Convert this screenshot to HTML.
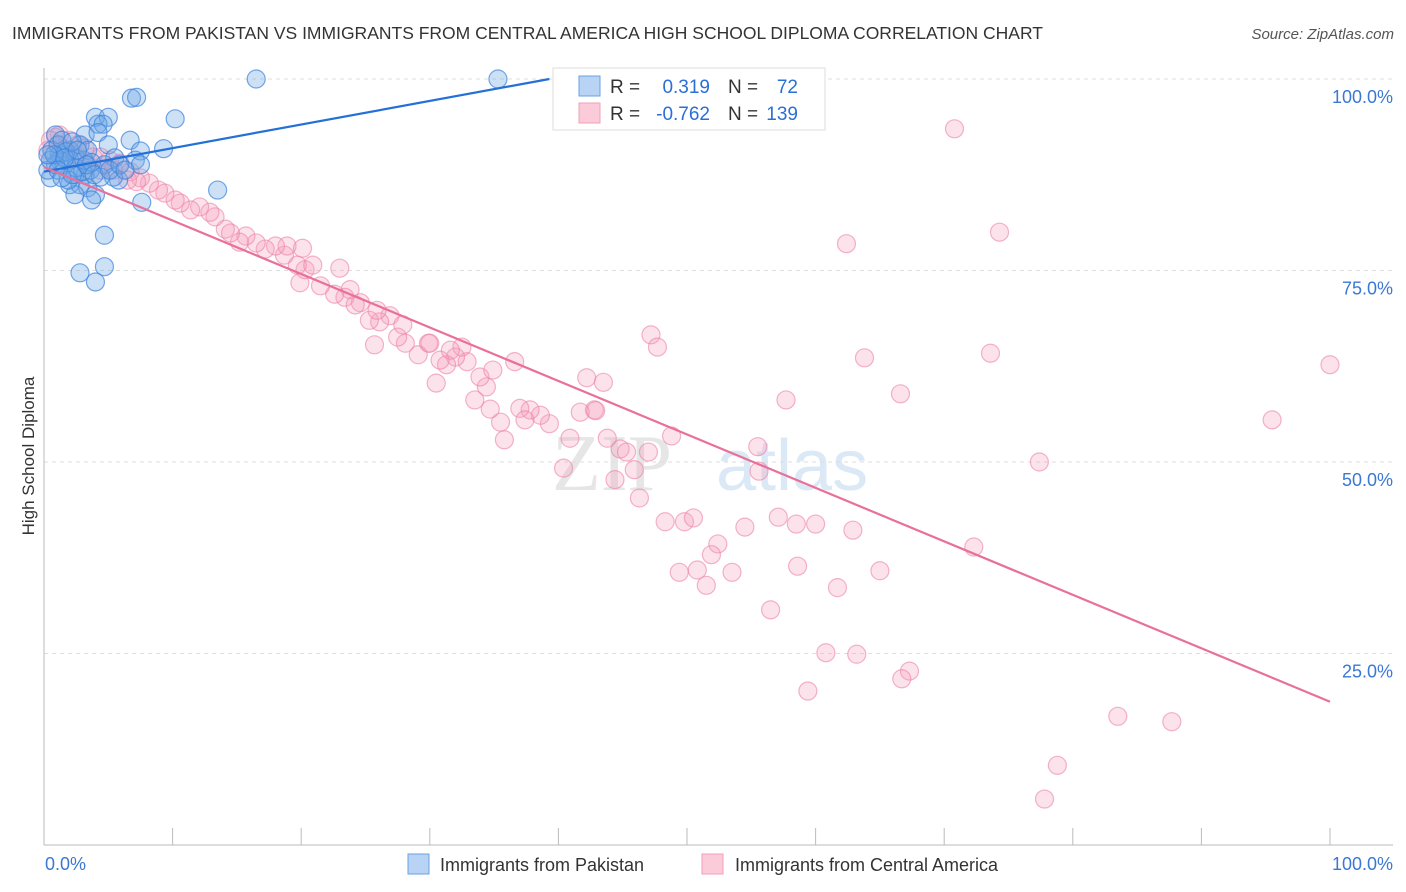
<!DOCTYPE html>
<html><head><meta charset="utf-8"><style>
body{margin:0;background:#fff;font-family:"Liberation Sans",sans-serif;}
svg{display:block}
</style></head><body>
<svg id="chart" width="1406" height="892">
<text x="12" y="39" font-size="17.5" fill="#333">IMMIGRANTS FROM PAKISTAN VS IMMIGRANTS FROM CENTRAL AMERICA HIGH SCHOOL DIPLOMA CORRELATION CHART</text>
<text x="1394" y="39" font-size="15" fill="#555" font-style="italic" text-anchor="end">Source: ZipAtlas.com</text>
<text x="34" y="456" font-size="17" fill="#333" text-anchor="middle" transform="rotate(-90 34 456)">High School Diploma</text>
<g><text x="552" y="490" font-size="80" fill="#e6e6e6" font-family="Liberation Serif,serif">ZIP</text><text x="716" y="490" font-size="72" fill="#dbe8f6">atlas</text></g>
<g id="grid"></g><g id="axes"></g><g id="pts"></g><g id="trend"></g>
<g>
<rect x="553" y="68" width="272" height="62" fill="#fff" stroke="#ddd"/>
<rect x="579" y="76" width="21" height="20" fill="#b8d3f3" stroke="#6aa0e4"/>
<rect x="579" y="103" width="21" height="20" fill="#fccbd9" stroke="#f0a0b8"/>
<text x="610" y="93" font-size="19" fill="#333">R =</text><text x="710" y="93" font-size="19" fill="#2a6fd6" text-anchor="end">0.319</text>
<text x="728" y="93" font-size="19" fill="#333">N =</text><text x="798" y="93" font-size="19" fill="#2a6fd6" text-anchor="end">72</text>
<text x="610" y="120" font-size="19" fill="#333">R =</text><text x="710" y="120" font-size="19" fill="#2a6fd6" text-anchor="end">-0.762</text>
<text x="728" y="120" font-size="19" fill="#333">N =</text><text x="798" y="120" font-size="19" fill="#2a6fd6" text-anchor="end">139</text>
</g>
<g>
<rect x="408" y="854" width="21" height="20" fill="#b8d3f3" stroke="#6aa0e4"/>
<text x="440" y="871" font-size="18" fill="#333">Immigrants from Pakistan</text>
<rect x="702" y="854" width="21" height="20" fill="#fccbd9" stroke="#f0a0b8"/>
<text x="735" y="871" font-size="18" fill="#333">Immigrants from Central America</text>
</g>
</svg>
<script>
const blueX=[16.5,35.3,6.8,7.2,10.2,4.0,5.0,4.2,4.6,3.2,4.2,6.7,9.3,7.5,5.0,0.9,0.6,1.2,2.0,2.4,2.8,5.5,7.1,7.5,4.7,3.6,3.2,2.4,5.8,5.4,0.5,0.3,1.6,2.0,2.8,3.4,4.0,2.4,3.7,7.6,13.5,4.7,2.8,4.7,4.0,1.2,1.1,1.4,1.7,2.0,2.5,3.0,0.9,4.4,3.1,3.4,3.7,0.5,0.8,1.6,2.2,2.6,3.3,3.9,5.1,5.9,6.3,1.9,1.1,0.3,1.4,2.2];
const blueY=[100,100,97.5,97.6,94.8,95.0,95.0,94.1,94.1,92.7,93.0,92.0,90.9,90.6,91.4,92.7,90.7,90.1,90.7,89.7,91.4,89.7,89.4,88.8,88.8,88.1,87.5,87.5,86.8,87.2,87.1,88.1,88.8,86.2,86.2,85.8,84.9,84.9,84.2,83.9,85.5,79.6,74.7,75.5,73.5,89.4,91.4,92.0,90.5,89.4,88.4,87.9,88.8,87.2,89.4,90.7,89.1,89.4,90.1,89.7,91.8,90.7,88.8,87.5,88.1,88.8,88.1,86.8,88.1,90.1,87.1,87.5];
const pinkX=[54.2,70.8,62.4,74.3,47.2,47.7,63.8,73.6,100,66.6,57.7,95.5,77.4,72.3,42.2,43.5,40.4,44.4,45.9,46.3,48.3,49.8,50.5,54.5,57.1,58.5,60.0,62.9,55.6,55.5,52.4,51.9,49.4,50.8,51.5,53.5,56.5,58.6,61.7,65.0,60.8,63.2,59.4,67.3,66.7,83.5,87.7,78.8,77.8,48.8,47.0,44.8,45.3,43.8,40.9,42.8,41.7,42.9,39.3,38.6,37.8,37.0,37.4,35.8,35.5,34.7,36.6,34.4,33.9,33.5,34.9,32.9,32.5,32.0,31.3,30.8,30.5,29.9,29.1,28.1,27.5,26.9,26.1,25.3,25.9,24.6,23.8,23.4,22.6,21.5,19.9,20.3,19.7,18.7,18.9,18.0,17.2,16.5,15.7,15.2,14.5,14.1,13.3,12.9,12.1,11.4,10.6,10.2,9.4,8.9,8.2,7.5,6.7,5.9,5.1,4.4,3.8,3.2,2.6,2.0,1.2,0.9,0.5,0.3,1.6,2.4,3.4,4.4,5.4,6.5,7.2,20.1,20.9,23.0,24.2,27.9,30.0,31.6,25.7];
const pinkY=[99.9,93.5,78.5,80.0,66.6,65.0,63.6,64.2,62.7,58.9,58.1,55.5,50.0,38.9,61.0,60.4,49.2,47.7,49.0,45.3,42.2,42.2,42.7,41.5,42.8,41.9,41.9,41.1,48.8,52.0,39.3,37.9,35.6,35.9,33.9,35.6,30.7,36.4,33.6,35.8,25.1,24.9,20.1,22.7,21.7,16.8,16.1,10.4,6.0,53.4,51.3,51.7,51.3,53.1,53.1,56.8,56.5,56.7,55.0,56.1,56.8,57.0,55.5,52.9,55.2,56.9,63.1,59.8,61.1,58.1,62.0,63.1,65.0,63.7,62.7,63.3,60.3,65.5,64.0,65.5,66.3,69.1,68.3,68.5,69.8,70.8,72.5,71.5,71.9,73.0,73.4,75.1,75.7,77.0,78.2,78.2,77.8,78.6,79.5,78.7,79.9,80.4,82.0,82.6,83.3,82.9,83.8,84.2,85.1,85.5,86.4,87.1,87.9,89.0,89.4,89.8,89.8,91.0,91.4,92.0,92.7,92.4,92.0,90.7,90.7,90.1,88.8,88.1,88.1,86.8,86.6,77.9,75.7,75.3,70.5,67.9,65.5,64.6,65.3];
const blueTrend=[[0,87.9],[39.3,100]];
const pinkTrend=[[0,88.5],[100,18.7]];
const yTicks=[100,75,50,25];
const yTickLabels=["100.0%","75.0%","50.0%","25.0%"];
const xTicks=[0,10,20,30,40,50,60,70,80,90,100];
const xTickLabels=["0.0%","100.0%"];

const NS="http://www.w3.org/2000/svg";
const X=v=>44+v*12.86, Y=v=>845-v*7.66;
function mk(parent,tag,attrs){const e=document.createElementNS(NS,tag);for(const k in attrs)e.setAttribute(k,attrs[k]);document.getElementById(parent).appendChild(e);return e;}
yTicks.forEach((t,i)=>{
  const l=mk('grid','line',{x1:44,x2:1393,y1:Y(t),y2:Y(t),stroke:'#ddd','stroke-dasharray':'4 4'});
  
  
  const tx=mk('grid','text',{x:1393,y:Y(t)+24,'font-size':18,fill:'#3a78d4','text-anchor':'end'});
  tx.textContent=yTickLabels[i];
  
  
});
let a=mk('axes','line',{x1:44,x2:44,y1:68,y2:845,stroke:'#bbb'});


a=mk('axes','line',{x1:44,x2:1393,y1:845,y2:845,stroke:'#bbb'});


xTicks.forEach(t=>{
  const l=mk('axes','line',{x1:X(t),x2:X(t),y1:828,y2:845,stroke:'#bbb'});
  
  
});
let t0=mk('axes','text',{x:45,y:870,'font-size':18,fill:'#3a78d4'});t0.textContent=xTickLabels[0];


let t1=mk('axes','text',{x:1393,y:870,'font-size':18,fill:'#3a78d4','text-anchor':'end'});t1.textContent=xTickLabels[1];


pinkX.forEach((v,i)=>{
  const c=mk('pts','circle',{cx:X(v),cy:Y(pinkY[i]),r:9,fill:'rgba(246,160,188,0.3)',stroke:'rgba(236,130,165,0.6)','stroke-width':1.2});
  
  
});
blueX.forEach((v,i)=>{
  const c=mk('pts','circle',{cx:X(v),cy:Y(blueY[i]),r:9,fill:'rgba(110,165,230,0.35)',stroke:'rgba(60,130,220,0.7)','stroke-width':1.2});
  
  
});
let tl=mk('trend','line',{x1:X(blueTrend[0][0]),y1:Y(blueTrend[0][1]),x2:X(blueTrend[1][0]),y2:Y(blueTrend[1][1]),stroke:'#2370d8','stroke-width':2.2});


tl=mk('trend','line',{x1:X(pinkTrend[0][0]),y1:Y(pinkTrend[0][1]),x2:X(pinkTrend[1][0]),y2:Y(pinkTrend[1][1]),stroke:'#e8709a','stroke-width':2.2});


</script>
</body></html>
